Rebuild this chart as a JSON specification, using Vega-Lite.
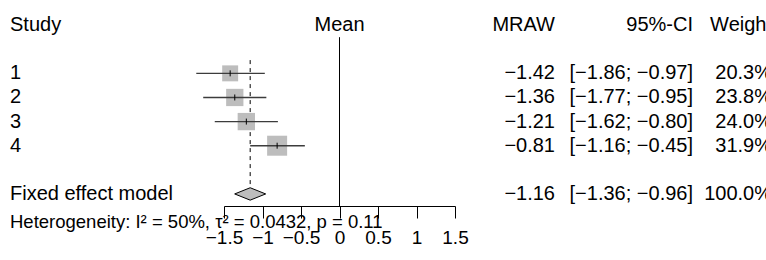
{
  "$schema": "https://vega.github.io/schema/vega-lite/v6.json",
  "padding": {"left": 10, "top": 1, "right": 0, "bottom": 0},
  "spacing": 0,
  "bounds": "flush",
  "config": {
    "view": {"stroke": null},
    "font": "Liberation Sans",
    "text": {"font": "Liberation Sans", "fontSize": 20, "color": "black"},
    "axisX": {"title": null, "values": [-1.5, -1, -0.5, 0, 0.5, 1, 1.5], "format": "~g", "grid": false, "domainColor": "black", "tickColor": "black", "tickSize": 12, "labelFontSize": 19, "labelFont": "Liberation Sans", "labelColor": "black", "labelPadding": 10, "labelFlush": false, "labelOverlap": false}
  },
  "datasets": {
    "studies": [
      {"study": "1", "row": 2, "mean": -1.42, "lo": -1.86, "hi": -0.97, "weight": 20.3},
      {"study": "2", "row": 3, "mean": -1.36, "lo": -1.77, "hi": -0.95, "weight": 23.8},
      {"study": "3", "row": 4, "mean": -1.21, "lo": -1.62, "hi": -0.80, "weight": 24.0},
      {"study": "4", "row": 5, "mean": -0.81, "lo": -1.16, "hi": -0.45, "weight": 31.9}
    ],
    "pooled": [
      {"row": 7, "mean": -1.16, "lo": -1.36, "hi": -0.96, "top": 1.45}
    ],
    "table": [
      {"row": 0, "study": "Study", "mraw": "MRAW", "ci": "95%-CI", "w": "Weight"},
      {"row": 2, "study": "1", "mraw": "−1.42", "ci": "[−1.86; −0.97]", "w": "20.3%"},
      {"row": 3, "study": "2", "mraw": "−1.36", "ci": "[−1.77; −0.95]", "w": "23.8%"},
      {"row": 4, "study": "3", "mraw": "−1.21", "ci": "[−1.62; −0.80]", "w": "24.0%"},
      {"row": 5, "study": "4", "mraw": "−0.81", "ci": "[−1.16; −0.45]", "w": "31.9%"},
      {"row": 7, "study": "Fixed effect model", "mraw": "−1.16", "ci": "[−1.36; −0.96]", "w": "100.0%"}
    ],
    "het": [
      {"row": 8.15, "label": "Heterogeneity: I² = 50%, τ² = 0.0432, p = 0.11"}
    ],
    "hdr": [
      {"row": 0, "label": "Mean", "zero": 0, "from": 0.5, "to": 7.5}
    ]
  },
  "hconcat": [
    {
      "width": 214,
      "height": 205,
      "layer": [
        {
          "data": {"name": "table"},
          "mark": {"type": "text", "align": "left", "baseline": "middle", "fontSize": 20},
          "encoding": {
            "x": {"value": 0},
            "y": {"field": "row", "type": "quantitative", "scale": {"domain": [-1, 7.5], "reverse": true, "nice": false, "zero": false}, "axis": null},
            "text": {"field": "study", "type": "nominal"}
          }
        },
        {
          "data": {"name": "het"},
          "mark": {"type": "text", "align": "left", "baseline": "middle", "fontSize": 18.5},
          "encoding": {
            "x": {"value": 0},
            "y": {"field": "row", "type": "quantitative", "scale": {"domain": [-1, 7.5], "reverse": true, "nice": false, "zero": false}, "axis": null},
            "text": {"field": "label", "type": "nominal"}
          }
        }
      ]
    },
    {
      "width": 231,
      "height": 205,
      "layer": [
        {
          "data": {"name": "pooled"},
          "mark": {"type": "rule", "color": "black", "strokeWidth": 1, "strokeDash": [4, 4]},
          "encoding": {
            "x": {"field": "mean", "type": "quantitative", "scale": {"domain": [-1.5, 1.5], "nice": false, "zero": false}},
            "y": {"field": "top", "type": "quantitative", "scale": {"domain": [-1, 7.5], "reverse": true, "nice": false, "zero": false}, "axis": null},
            "y2": {"field": "row"}
          }
        },
        {
          "data": {"name": "hdr"},
          "mark": {"type": "rule", "color": "black", "strokeWidth": 1},
          "encoding": {
            "x": {"field": "zero", "type": "quantitative"},
            "y": {"field": "from", "type": "quantitative"},
            "y2": {"field": "to"}
          }
        },
        {
          "data": {"name": "studies"},
          "mark": {"type": "point", "shape": "square", "filled": true, "color": "#bdbdbd", "opacity": 1},
          "encoding": {
            "x": {"field": "mean", "type": "quantitative"},
            "y": {"field": "row", "type": "quantitative"},
            "size": {"field": "weight", "type": "quantitative", "scale": {"domain": [0, 31.9], "range": [0, 400]}, "legend": null}
          }
        },
        {
          "data": {"name": "studies"},
          "mark": {"type": "rule", "color": "#3c3c3c", "strokeWidth": 1.4},
          "encoding": {
            "x": {"field": "lo", "type": "quantitative"},
            "x2": {"field": "hi"},
            "y": {"field": "row", "type": "quantitative"}
          }
        },
        {
          "data": {"name": "studies"},
          "mark": {"type": "point", "shape": "M0,-1L0,1", "filled": false, "color": "black", "strokeWidth": 1, "size": 36, "opacity": 1},
          "encoding": {
            "x": {"field": "mean", "type": "quantitative"},
            "y": {"field": "row", "type": "quantitative"}
          }
        },
        {
          "data": {"name": "pooled"},
          "mark": {"type": "point", "shape": "M-1,0L0,-0.4L1,0L0,0.4Z", "filled": true, "fill": "#bdbdbd", "stroke": "black", "strokeWidth": 1, "size": 961, "opacity": 1},
          "encoding": {
            "x": {"field": "mean", "type": "quantitative"},
            "y": {"field": "row", "type": "quantitative"}
          }
        },
        {
          "data": {"name": "hdr"},
          "mark": {"type": "text", "align": "center", "baseline": "middle", "fontSize": 20},
          "encoding": {
            "x": {"field": "zero", "type": "quantitative"},
            "y": {"field": "row", "type": "quantitative"},
            "text": {"field": "label", "type": "nominal"}
          }
        }
      ]
    },
    {
      "width": 100,
      "height": 205,
      "data": {"name": "table"},
      "mark": {"type": "text", "align": "right", "baseline": "middle", "fontSize": 20},
      "encoding": {
        "x": {"value": "width"},
        "y": {"field": "row", "type": "quantitative", "scale": {"domain": [-1, 7.5], "reverse": true, "nice": false, "zero": false}, "axis": null},
        "text": {"field": "mraw", "type": "nominal"}
      }
    },
    {
      "width": 138,
      "height": 205,
      "data": {"name": "table"},
      "mark": {"type": "text", "align": "right", "baseline": "middle", "fontSize": 20},
      "encoding": {
        "x": {"value": "width"},
        "y": {"field": "row", "type": "quantitative", "scale": {"domain": [-1, 7.5], "reverse": true, "nice": false, "zero": false}, "axis": null},
        "text": {"field": "ci", "type": "nominal"}
      }
    },
    {
      "width": 73,
      "height": 205,
      "data": {"name": "table"},
      "mark": {"type": "text", "align": "right", "baseline": "middle", "fontSize": 20, "dx": 6, "clip": true},
      "encoding": {
        "x": {"value": "width"},
        "y": {"field": "row", "type": "quantitative", "scale": {"domain": [-1, 7.5], "reverse": true, "nice": false, "zero": false}, "axis": null},
        "text": {"field": "w", "type": "nominal"}
      }
    }
  ]
}
